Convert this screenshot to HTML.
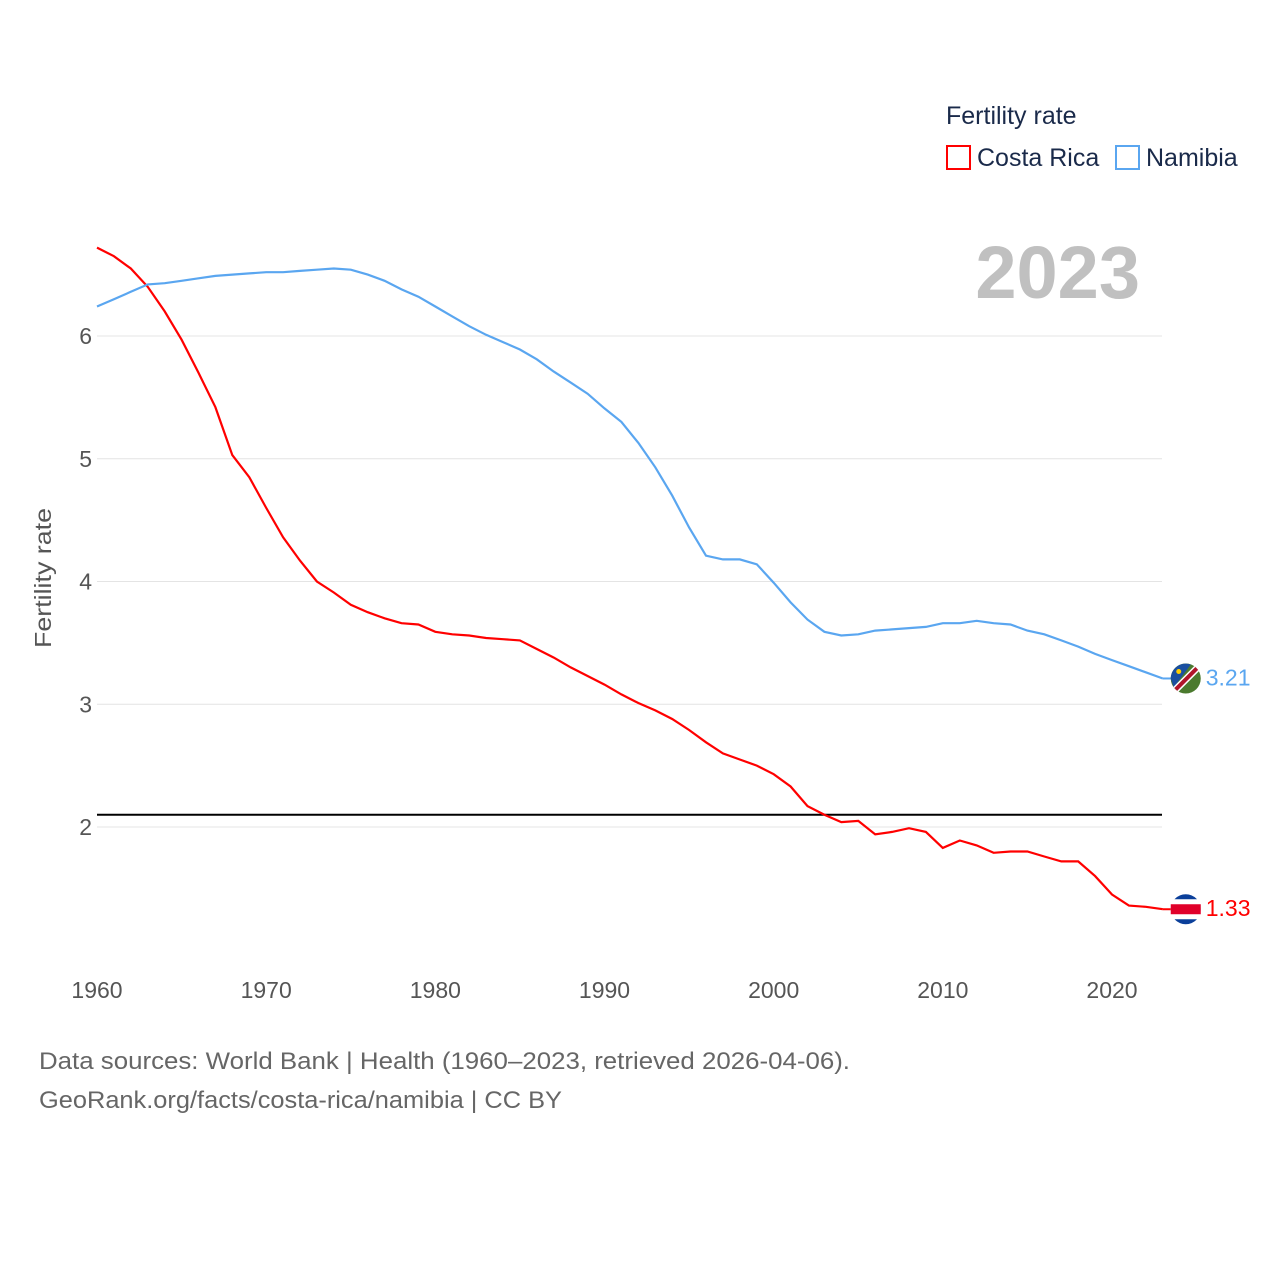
<!DOCTYPE html>
<html><head><meta charset="utf-8"><style>
body{margin:0;background:#fff;}
svg text{font-family:"Liberation Sans",sans-serif;}
</style></head><body>
<svg id="chart" width="1280" height="1280" xmlns="http://www.w3.org/2000/svg">
<text x="946" y="124" font-size="25" fill="#1a2a4a">Fertility rate</text>
<g><rect x="947" y="146" width="23" height="23" fill="none" stroke="#ff0000" stroke-width="2"/><text x="977" y="166" font-size="25" fill="#1a2a4a">Costa Rica</text></g>
<g><rect x="1116" y="146" width="23" height="23" fill="none" stroke="#5aa6f0" stroke-width="2"/><text x="1146" y="166" font-size="25" fill="#1a2a4a">Namibia</text></g>
<text x="1140" y="298" font-size="74" font-weight="bold" fill="#c0c0c0" text-anchor="end">2023</text>
<text transform="translate(51,578) rotate(-90)" font-size="23" fill="#555" text-anchor="middle" textLength="140" lengthAdjust="spacingAndGlyphs">Fertility rate</text>
<g id="grid"></g><g id="series"></g>
<text x="39" y="1069" font-size="24" fill="#666" textLength="811" lengthAdjust="spacingAndGlyphs">Data sources: World Bank | Health (1960–2023, retrieved 2026-04-06).</text>
<text x="39" y="1108" font-size="24" fill="#666" textLength="523" lengthAdjust="spacingAndGlyphs">GeoRank.org/facts/costa-rica/namibia | CC BY</text>
</svg>
<script>
const years=[];for(let y=1960;y<=2023;y++)years.push(y);
const costaRica=[6.72,6.65,6.55,6.40,6.20,5.97,5.70,5.42,5.03,4.85,4.60,4.36,4.17,4.00,3.91,3.81,3.75,3.70,3.66,3.65,3.59,3.57,3.56,3.54,3.53,3.52,3.45,3.38,3.30,3.23,3.16,3.08,3.01,2.95,2.88,2.79,2.69,2.60,2.55,2.50,2.43,2.33,2.17,2.10,2.04,2.05,1.94,1.96,1.99,1.96,1.83,1.89,1.85,1.79,1.80,1.80,1.76,1.72,1.72,1.60,1.45,1.36,1.35,1.33];
const namibia=[6.24,6.30,6.36,6.42,6.43,6.45,6.47,6.49,6.50,6.51,6.52,6.52,6.53,6.54,6.55,6.54,6.50,6.45,6.38,6.32,6.24,6.16,6.08,6.01,5.95,5.89,5.81,5.71,5.62,5.53,5.41,5.30,5.13,4.93,4.70,4.44,4.21,4.18,4.18,4.14,3.99,3.83,3.69,3.59,3.56,3.57,3.60,3.61,3.62,3.63,3.66,3.66,3.68,3.66,3.65,3.60,3.57,3.52,3.47,3.41,3.36,3.31,3.26,3.21];
const yTicks=[2,3,4,5,6];
const xTicks=[1960,1970,1980,1990,2000,2010,2020];
const refLine=2.1;
const NS="http://www.w3.org/2000/svg";
const xs=y=>97+(y-1960)*(1015/60);
const ys=v=>827-(v-2)*122.75;
function mk(t,a,p){const e=document.createElementNS(NS,t);for(const k in a)e.setAttribute(k,a[k]);p.appendChild(e);return e;}
const grid=document.getElementById('grid'),ser=document.getElementById('series');
yTicks.forEach(v=>{
 const l=mk('line',{x1:97,x2:1162,y1:ys(v),y2:ys(v),stroke:'#e4e4e4','stroke-width':1},grid);
 
 
 const t=mk('text',{x:92,y:ys(v)+8,'font-size':23,fill:'#555','text-anchor':'end'},grid);t.textContent=v;
 
 
});
xTicks.forEach(v=>{
 const t=mk('text',{x:xs(v),y:998,'font-size':23,fill:'#555','text-anchor':'middle'},grid);t.textContent=v;
 
 
});
const rl=mk('line',{x1:97,x2:1162,y1:ys(refLine),y2:ys(refLine),stroke:'#000','stroke-width':2},ser);


function line(data,color,name){
 const d=data.map((v,i)=>(i?'L':'M')+xs(years[i]).toFixed(1)+','+ys(v).toFixed(1)).join('');
 const p=mk('path',{d:d,fill:'none',stroke:color,'stroke-width':2.2},ser);
 
 
 const last=data[data.length-1],ly=ys(last),lx=xs(years[years.length-1]);
 mk('line',{x1:lx,x2:lx+12,y1:ly,y2:ly,stroke:color,'stroke-width':2},ser);
 const t=mk('text',{x:lx+43,y:ly+7,'font-size':23,fill:color},ser);t.textContent=last.toFixed(2);
 
 
 return [lx+23,ly];
}
const [cx1,cy1]=line(costaRica,'#ff0000','costa-rica');
const [cx2,cy2]=line(namibia,'#5aa6f0','namibia');
const f1=mk('g',{},ser);


mk('circle',{cx:cx1,cy:cy1,r:15,fill:'#0b3f9a'},f1);
mk('rect',{x:cx1-15,y:cy1-10,width:30,height:20,fill:'#fff'},f1);
mk('rect',{x:cx1-15,y:cy1-5,width:30,height:10,fill:'#e0002a'},f1);
const f2=mk('g',{},ser);


mk('circle',{cx:cx2,cy:cy2,r:15,fill:'#4b7a2e'},f2);
mk('path',{d:`M${cx2-15},${cy2} A15,15 0 0 1 ${cx2+5},${cy2-14} L${cx2-12},${cy2+9} Z`,fill:'#1a4fa0'},f2);
mk('line',{x1:cx2-10,y1:cy2+11,x2:cx2+11,y2:cy2-10,stroke:'#fff','stroke-width':7},f2);
mk('line',{x1:cx2-10,y1:cy2+11,x2:cx2+11,y2:cy2-10,stroke:'#b0142a','stroke-width':4},f2);
mk('circle',{cx:cx2-7,cy:cy2-7,r:2.5,fill:'#ffce00'},f2);
</script>
</body></html>
